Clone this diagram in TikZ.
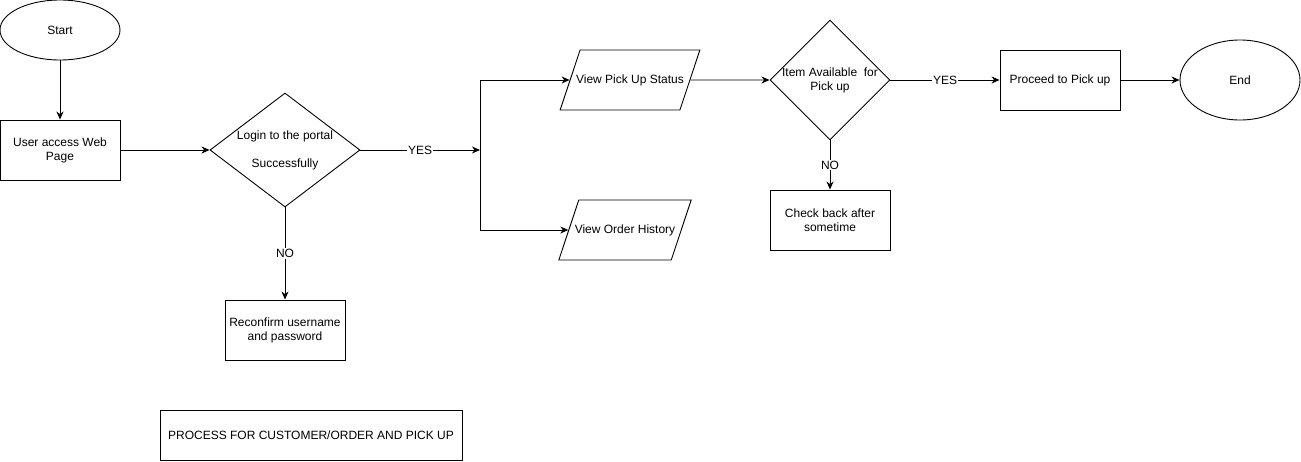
\documentclass[tikz,border=0pt]{standalone}
\usepackage{fontspec}
\setmainfont{Liberation Sans}
\usetikzlibrary{arrows.meta,shapes.geometric}

\begin{document}
\begin{tikzpicture}[x=1pt, y=-1pt, line width=0.9pt,
    font=\fontsize{12pt}{14pt}\selectfont,
    >={Stealth[length=8pt,width=7pt,inset=2.5pt]},
    terminal/.style={draw, ellipse, minimum width=120pt, minimum height=60pt, inner sep=0pt},
    stepbox/.style={draw, rectangle, minimum width=120pt, minimum height=60pt, align=center, inner sep=0pt},
    decision/.style={draw, diamond, inner sep=0pt},
    inout/.style={draw, trapezium, trapezium left angle=71.6, trapezium right angle=108.4,
        trapezium stretches body=true, text height=9pt, text depth=3pt,
        inner xsep=-4pt, inner ysep=24pt},
    answer/.style={fill=white, inner sep=1pt}]
    \useasboundingbox (0,0) rectangle (1301,461);

    % Login part
    \node[terminal] (start) at (60,30) {Start};
    \node[stepbox] (access) at (60,150) {User access Web\\Page};
    \node[decision, minimum width=150pt, minimum height=114pt,
        label={[align=center]center:Login to the portal\\[14pt]Successfully}] (login) at (285,150) {};
    \node[stepbox] (reconfirm) at (285,330) {Reconfirm username\\and password};
    \coordinate (fork) at (480,150);

    % Pick up part
    \node[inout] (status) at (630,80) {View Pick Up Status};
    \node[inout] (history) at (625,230) {View Order History};
    \node[decision, minimum width=120pt, minimum height=120pt,
        label={[align=center]center:Item Available\ \ for\\Pick up}] (avail) at (830,80) {};
    \node[stepbox] (check) at (830,220) {Check back after\\sometime};
    \node[stepbox] (proceed) at (1060,80) {Proceed to Pick up};
    \node[terminal, minimum height=80pt] (end) at (1240,80) {End};

    % Title
    \node[stepbox, minimum width=302pt, minimum height=50pt] (title) at (311,435)
        {PROCESS FOR CUSTOMER/ORDER AND PICK UP};

    % Connectors
    \draw[->] (start) -- (access);
    \draw[->] (access) -- (login);
    \draw[->] (login.east) -- node[answer] {YES} (fork);
    \draw[->] (login.south) -- node[answer] {NO} (reconfirm);
    \draw[->] (fork) |- (status.west);
    \draw[->] (fork) |- (history.west);
    \draw[->] (status) -- (avail);
    \draw[->] (avail.east) -- node[answer] {YES} (proceed);
    \draw[->] (avail.south) -- node[answer] {NO} (check);
    \draw[->] (proceed) -- (end);
  \end{tikzpicture}
\end{document}
